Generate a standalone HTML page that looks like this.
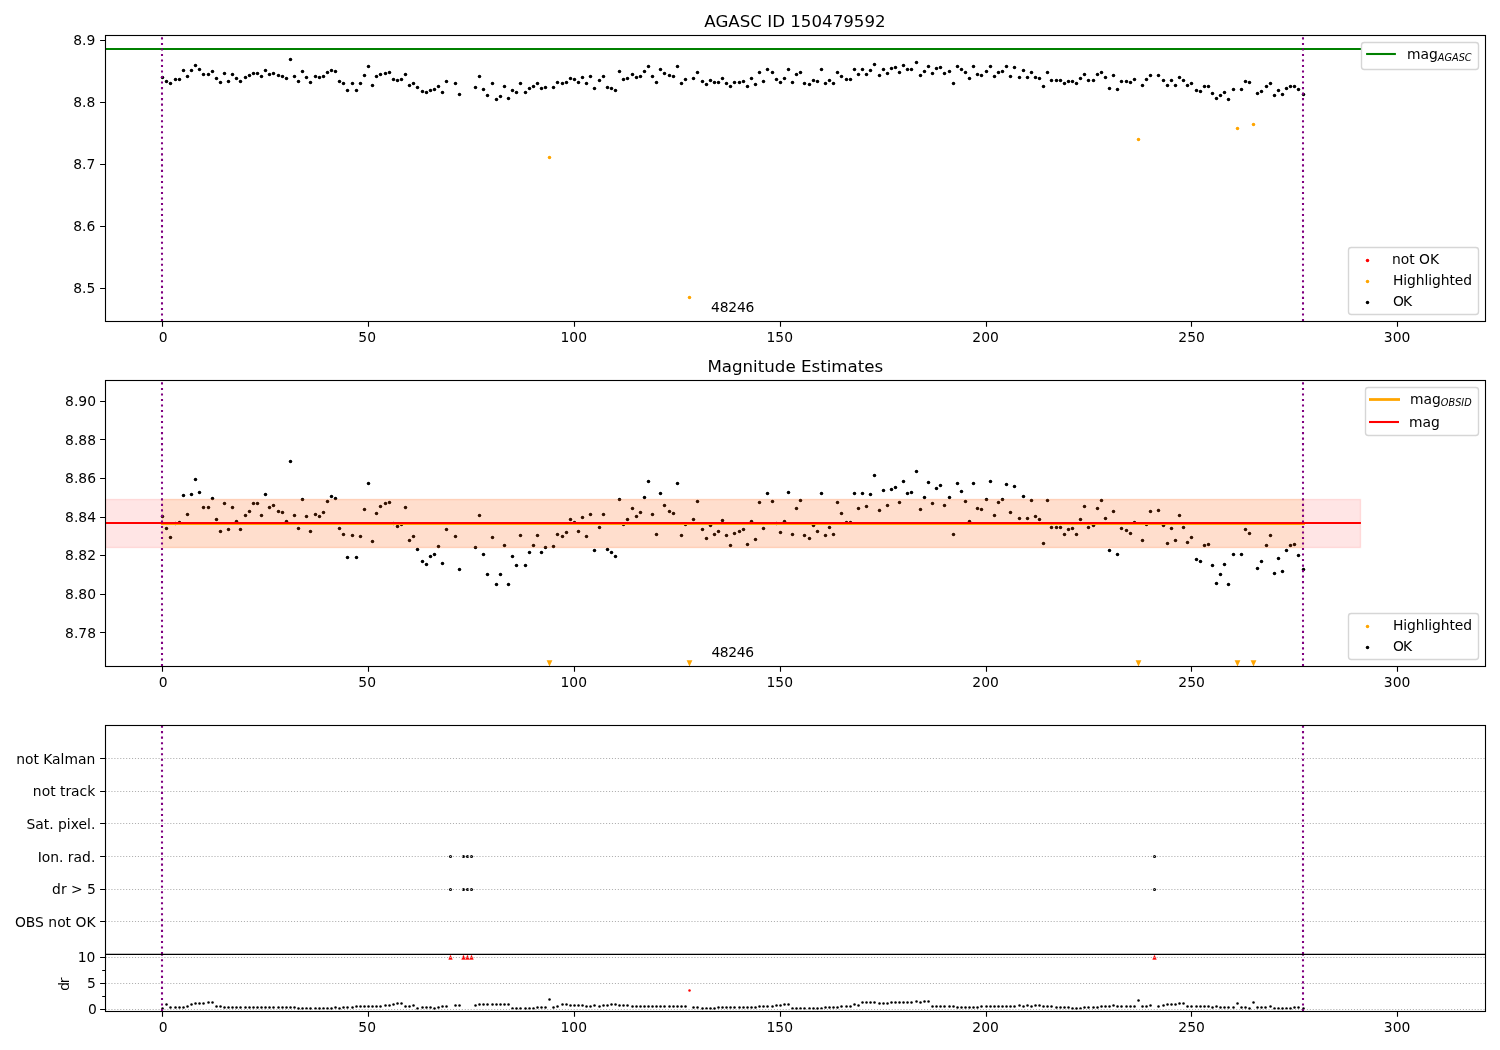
<!DOCTYPE html>
<html lang="en"><head><meta charset="utf-8"><title>AGASC ID 150479592</title>
<style>html,body{margin:0;padding:0;background:#fff;width:1500px;height:1050px;overflow:hidden}svg{display:block}</style>
</head><body>
<svg width="1500" height="1050" viewBox="0 0 1500 1050" font-family='"DejaVu Sans", "Liberation Sans", sans-serif' font-size="13.89" fill="#000">
<rect width="1500" height="1050" fill="#fff"/>
<defs>
<clipPath id="c1"><rect x="105.5" y="35.5" width="1380" height="286"/></clipPath>
<clipPath id="c2"><rect x="105.5" y="380.5" width="1380" height="286"/></clipPath>
<clipPath id="c3"><rect x="105.5" y="725.5" width="1380" height="229"/></clipPath>
<clipPath id="c4"><rect x="105.5" y="954.5" width="1380" height="57"/></clipPath>
</defs>
<text x="795.0" y="27" font-size="16.67" text-anchor="middle">AGASC ID 150479592</text>
<g clip-path="url(#c1)">
<g fill="#000"><circle cx="162.5" cy="77.5" r="1.75"/><circle cx="166.5" cy="81.5" r="1.75"/><circle cx="170.5" cy="83.5" r="1.75"/><circle cx="175.5" cy="79.5" r="1.75"/><circle cx="179.5" cy="79.5" r="1.75"/><circle cx="183.5" cy="70.5" r="1.75"/><circle cx="187.5" cy="76.5" r="1.75"/><circle cx="191.5" cy="70.5" r="1.75"/><circle cx="195.5" cy="65.5" r="1.75"/><circle cx="199.5" cy="69.5" r="1.75"/><circle cx="203.5" cy="74.5" r="1.75"/><circle cx="208.5" cy="74.5" r="1.75"/><circle cx="212.5" cy="71.5" r="1.75"/><circle cx="216.5" cy="78.5" r="1.75"/><circle cx="220.5" cy="82.5" r="1.75"/><circle cx="224.5" cy="73.5" r="1.75"/><circle cx="228.5" cy="81.5" r="1.75"/><circle cx="232.5" cy="74.5" r="1.75"/><circle cx="236.5" cy="78.5" r="1.75"/><circle cx="240.5" cy="81.5" r="1.75"/><circle cx="245.5" cy="77.5" r="1.75"/><circle cx="249.5" cy="75.5" r="1.75"/><circle cx="253.5" cy="73.5" r="1.75"/><circle cx="257.5" cy="73.5" r="1.75"/><circle cx="261.5" cy="76.5" r="1.75"/><circle cx="265.5" cy="70.5" r="1.75"/><circle cx="269.5" cy="74.5" r="1.75"/><circle cx="273.5" cy="73.5" r="1.75"/><circle cx="278.5" cy="75.5" r="1.75"/><circle cx="282.5" cy="76.5" r="1.75"/><circle cx="286.5" cy="78.5" r="1.75"/><circle cx="290.5" cy="59.5" r="1.75"/><circle cx="294.5" cy="76.5" r="1.75"/><circle cx="298.5" cy="81.5" r="1.75"/><circle cx="302.5" cy="71.5" r="1.75"/><circle cx="306.5" cy="77.5" r="1.75"/><circle cx="310.5" cy="82.5" r="1.75"/><circle cx="315.5" cy="76.5" r="1.75"/><circle cx="319.5" cy="77.5" r="1.75"/><circle cx="323.5" cy="76.5" r="1.75"/><circle cx="327.5" cy="72.5" r="1.75"/><circle cx="331.5" cy="70.5" r="1.75"/><circle cx="335.5" cy="71.5" r="1.75"/><circle cx="339.5" cy="81.5" r="1.75"/><circle cx="343.5" cy="83.5" r="1.75"/><circle cx="347.5" cy="90.5" r="1.75"/><circle cx="352.5" cy="83.5" r="1.75"/><circle cx="356.5" cy="90.5" r="1.75"/><circle cx="360.5" cy="83.5" r="1.75"/><circle cx="364.5" cy="75.5" r="1.75"/><circle cx="368.5" cy="66.5" r="1.75"/><circle cx="372.5" cy="85.5" r="1.75"/><circle cx="376.5" cy="76.5" r="1.75"/><circle cx="380.5" cy="74.5" r="1.75"/><circle cx="385.5" cy="73.5" r="1.75"/><circle cx="389.5" cy="72.5" r="1.75"/><circle cx="393.5" cy="79.5" r="1.75"/><circle cx="397.5" cy="80.5" r="1.75"/><circle cx="401.5" cy="79.5" r="1.75"/><circle cx="405.5" cy="74.5" r="1.75"/><circle cx="409.5" cy="85.5" r="1.75"/><circle cx="413.5" cy="83.5" r="1.75"/><circle cx="417.5" cy="87.5" r="1.75"/><circle cx="422.5" cy="91.5" r="1.75"/><circle cx="426.5" cy="92.5" r="1.75"/><circle cx="430.5" cy="90.5" r="1.75"/><circle cx="434.5" cy="89.5" r="1.75"/><circle cx="438.5" cy="86.5" r="1.75"/><circle cx="442.5" cy="92.5" r="1.75"/><circle cx="446.5" cy="81.5" r="1.75"/><circle cx="455.5" cy="83.5" r="1.75"/><circle cx="459.5" cy="94.5" r="1.75"/><circle cx="475.5" cy="87.5" r="1.75"/><circle cx="479.5" cy="76.5" r="1.75"/><circle cx="483.5" cy="89.5" r="1.75"/><circle cx="487.5" cy="95.5" r="1.75"/><circle cx="492.5" cy="83.5" r="1.75"/><circle cx="496.5" cy="99.5" r="1.75"/><circle cx="500.5" cy="96.5" r="1.75"/><circle cx="504.5" cy="86.5" r="1.75"/><circle cx="508.5" cy="98.5" r="1.75"/><circle cx="512.5" cy="90.5" r="1.75"/><circle cx="516.5" cy="92.5" r="1.75"/><circle cx="520.5" cy="83.5" r="1.75"/><circle cx="525.5" cy="92.5" r="1.75"/><circle cx="529.5" cy="88.5" r="1.75"/><circle cx="533.5" cy="86.5" r="1.75"/><circle cx="537.5" cy="83.5" r="1.75"/><circle cx="541.5" cy="88.5" r="1.75"/><circle cx="545.5" cy="87.5" r="1.75"/><circle cx="553.5" cy="87.5" r="1.75"/><circle cx="557.5" cy="82.5" r="1.75"/><circle cx="562.5" cy="83.5" r="1.75"/><circle cx="566.5" cy="82.5" r="1.75"/><circle cx="570.5" cy="78.5" r="1.75"/><circle cx="574.5" cy="79.5" r="1.75"/><circle cx="578.5" cy="82.5" r="1.75"/><circle cx="582.5" cy="77.5" r="1.75"/><circle cx="586.5" cy="83.5" r="1.75"/><circle cx="590.5" cy="76.5" r="1.75"/><circle cx="594.5" cy="88.5" r="1.75"/><circle cx="599.5" cy="80.5" r="1.75"/><circle cx="603.5" cy="76.5" r="1.75"/><circle cx="607.5" cy="87.5" r="1.75"/><circle cx="611.5" cy="88.5" r="1.75"/><circle cx="615.5" cy="90.5" r="1.75"/><circle cx="619.5" cy="71.5" r="1.75"/><circle cx="623.5" cy="79.5" r="1.75"/><circle cx="627.5" cy="78.5" r="1.75"/><circle cx="632.5" cy="74.5" r="1.75"/><circle cx="636.5" cy="77.5" r="1.75"/><circle cx="640.5" cy="76.5" r="1.75"/><circle cx="644.5" cy="71.5" r="1.75"/><circle cx="648.5" cy="66.5" r="1.75"/><circle cx="652.5" cy="76.5" r="1.75"/><circle cx="656.5" cy="82.5" r="1.75"/><circle cx="660.5" cy="69.5" r="1.75"/><circle cx="664.5" cy="73.5" r="1.75"/><circle cx="669.5" cy="75.5" r="1.75"/><circle cx="673.5" cy="76.5" r="1.75"/><circle cx="677.5" cy="66.5" r="1.75"/><circle cx="681.5" cy="83.5" r="1.75"/><circle cx="685.5" cy="79.5" r="1.75"/><circle cx="693.5" cy="78.5" r="1.75"/><circle cx="697.5" cy="72.5" r="1.75"/><circle cx="702.5" cy="81.5" r="1.75"/><circle cx="706.5" cy="84.5" r="1.75"/><circle cx="710.5" cy="80.5" r="1.75"/><circle cx="714.5" cy="82.5" r="1.75"/><circle cx="718.5" cy="82.5" r="1.75"/><circle cx="722.5" cy="78.5" r="1.75"/><circle cx="726.5" cy="83.5" r="1.75"/><circle cx="730.5" cy="86.5" r="1.75"/><circle cx="734.5" cy="82.5" r="1.75"/><circle cx="739.5" cy="82.5" r="1.75"/><circle cx="743.5" cy="81.5" r="1.75"/><circle cx="747.5" cy="86.5" r="1.75"/><circle cx="751.5" cy="78.5" r="1.75"/><circle cx="755.5" cy="84.5" r="1.75"/><circle cx="759.5" cy="72.5" r="1.75"/><circle cx="763.5" cy="81.5" r="1.75"/><circle cx="767.5" cy="69.5" r="1.75"/><circle cx="772.5" cy="72.5" r="1.75"/><circle cx="776.5" cy="79.5" r="1.75"/><circle cx="780.5" cy="82.5" r="1.75"/><circle cx="784.5" cy="78.5" r="1.75"/><circle cx="788.5" cy="69.5" r="1.75"/><circle cx="792.5" cy="82.5" r="1.75"/><circle cx="796.5" cy="74.5" r="1.75"/><circle cx="800.5" cy="72.5" r="1.75"/><circle cx="804.5" cy="83.5" r="1.75"/><circle cx="809.5" cy="84.5" r="1.75"/><circle cx="813.5" cy="80.5" r="1.75"/><circle cx="817.5" cy="81.5" r="1.75"/><circle cx="821.5" cy="69.5" r="1.75"/><circle cx="825.5" cy="83.5" r="1.75"/><circle cx="829.5" cy="80.5" r="1.75"/><circle cx="833.5" cy="83.5" r="1.75"/><circle cx="837.5" cy="72.5" r="1.75"/><circle cx="841.5" cy="76.5" r="1.75"/><circle cx="846.5" cy="79.5" r="1.75"/><circle cx="850.5" cy="79.5" r="1.75"/><circle cx="854.5" cy="69.5" r="1.75"/><circle cx="858.5" cy="74.5" r="1.75"/><circle cx="862.5" cy="69.5" r="1.75"/><circle cx="866.5" cy="74.5" r="1.75"/><circle cx="870.5" cy="70.5" r="1.75"/><circle cx="874.5" cy="64.5" r="1.75"/><circle cx="879.5" cy="75.5" r="1.75"/><circle cx="883.5" cy="69.5" r="1.75"/><circle cx="887.5" cy="73.5" r="1.75"/><circle cx="891.5" cy="68.5" r="1.75"/><circle cx="895.5" cy="67.5" r="1.75"/><circle cx="899.5" cy="72.5" r="1.75"/><circle cx="903.5" cy="65.5" r="1.75"/><circle cx="907.5" cy="69.5" r="1.75"/><circle cx="911.5" cy="69.5" r="1.75"/><circle cx="916.5" cy="62.5" r="1.75"/><circle cx="920.5" cy="75.5" r="1.75"/><circle cx="924.5" cy="71.5" r="1.75"/><circle cx="928.5" cy="66.5" r="1.75"/><circle cx="932.5" cy="73.5" r="1.75"/><circle cx="936.5" cy="68.5" r="1.75"/><circle cx="940.5" cy="67.5" r="1.75"/><circle cx="944.5" cy="73.5" r="1.75"/><circle cx="949.5" cy="71.5" r="1.75"/><circle cx="953.5" cy="83.5" r="1.75"/><circle cx="957.5" cy="66.5" r="1.75"/><circle cx="961.5" cy="69.5" r="1.75"/><circle cx="965.5" cy="72.5" r="1.75"/><circle cx="969.5" cy="78.5" r="1.75"/><circle cx="973.5" cy="66.5" r="1.75"/><circle cx="977.5" cy="74.5" r="1.75"/><circle cx="981.5" cy="75.5" r="1.75"/><circle cx="986.5" cy="71.5" r="1.75"/><circle cx="990.5" cy="66.5" r="1.75"/><circle cx="994.5" cy="76.5" r="1.75"/><circle cx="998.5" cy="72.5" r="1.75"/><circle cx="1002.5" cy="71.5" r="1.75"/><circle cx="1006.5" cy="66.5" r="1.75"/><circle cx="1010.5" cy="76.5" r="1.75"/><circle cx="1014.5" cy="67.5" r="1.75"/><circle cx="1019.5" cy="77.5" r="1.75"/><circle cx="1023.5" cy="70.5" r="1.75"/><circle cx="1027.5" cy="77.5" r="1.75"/><circle cx="1031.5" cy="72.5" r="1.75"/><circle cx="1035.5" cy="77.5" r="1.75"/><circle cx="1039.5" cy="78.5" r="1.75"/><circle cx="1043.5" cy="86.5" r="1.75"/><circle cx="1047.5" cy="72.5" r="1.75"/><circle cx="1051.5" cy="80.5" r="1.75"/><circle cx="1056.5" cy="80.5" r="1.75"/><circle cx="1060.5" cy="80.5" r="1.75"/><circle cx="1064.5" cy="83.5" r="1.75"/><circle cx="1068.5" cy="81.5" r="1.75"/><circle cx="1072.5" cy="81.5" r="1.75"/><circle cx="1076.5" cy="83.5" r="1.75"/><circle cx="1080.5" cy="78.5" r="1.75"/><circle cx="1084.5" cy="74.5" r="1.75"/><circle cx="1088.5" cy="80.5" r="1.75"/><circle cx="1093.5" cy="80.5" r="1.75"/><circle cx="1097.5" cy="74.5" r="1.75"/><circle cx="1101.5" cy="72.5" r="1.75"/><circle cx="1105.5" cy="77.5" r="1.75"/><circle cx="1109.5" cy="88.5" r="1.75"/><circle cx="1113.5" cy="75.5" r="1.75"/><circle cx="1117.5" cy="89.5" r="1.75"/><circle cx="1121.5" cy="81.5" r="1.75"/><circle cx="1126.5" cy="81.5" r="1.75"/><circle cx="1130.5" cy="82.5" r="1.75"/><circle cx="1134.5" cy="79.5" r="1.75"/><circle cx="1142.5" cy="85.5" r="1.75"/><circle cx="1146.5" cy="79.5" r="1.75"/><circle cx="1150.5" cy="75.5" r="1.75"/><circle cx="1158.5" cy="75.5" r="1.75"/><circle cx="1163.5" cy="80.5" r="1.75"/><circle cx="1167.5" cy="85.5" r="1.75"/><circle cx="1171.5" cy="80.5" r="1.75"/><circle cx="1175.5" cy="85.5" r="1.75"/><circle cx="1179.5" cy="77.5" r="1.75"/><circle cx="1183.5" cy="80.5" r="1.75"/><circle cx="1187.5" cy="85.5" r="1.75"/><circle cx="1191.5" cy="83.5" r="1.75"/><circle cx="1196.5" cy="90.5" r="1.75"/><circle cx="1200.5" cy="91.5" r="1.75"/><circle cx="1204.5" cy="86.5" r="1.75"/><circle cx="1208.5" cy="86.5" r="1.75"/><circle cx="1212.5" cy="93.5" r="1.75"/><circle cx="1216.5" cy="98.5" r="1.75"/><circle cx="1220.5" cy="95.5" r="1.75"/><circle cx="1224.5" cy="92.5" r="1.75"/><circle cx="1228.5" cy="99.5" r="1.75"/><circle cx="1233.5" cy="89.5" r="1.75"/><circle cx="1241.5" cy="89.5" r="1.75"/><circle cx="1245.5" cy="81.5" r="1.75"/><circle cx="1249.5" cy="82.5" r="1.75"/><circle cx="1257.5" cy="93.5" r="1.75"/><circle cx="1261.5" cy="91.5" r="1.75"/><circle cx="1266.5" cy="86.5" r="1.75"/><circle cx="1270.5" cy="83.5" r="1.75"/><circle cx="1274.5" cy="95.5" r="1.75"/><circle cx="1278.5" cy="90.5" r="1.75"/><circle cx="1282.5" cy="94.5" r="1.75"/><circle cx="1286.5" cy="88.5" r="1.75"/><circle cx="1290.5" cy="86.5" r="1.75"/><circle cx="1294.5" cy="86.5" r="1.75"/><circle cx="1298.5" cy="89.5" r="1.75"/><circle cx="1303.5" cy="94.5" r="1.75"/></g>
<g fill="#ffa500"><circle cx="549.5" cy="157.5" r="1.75"/><circle cx="689.5" cy="297.5" r="1.75"/><circle cx="1138.5" cy="139.5" r="1.75"/><circle cx="1237.5" cy="128.5" r="1.75"/><circle cx="1253.5" cy="124.5" r="1.75"/></g>
<path d="M104.2 49H1361.1" stroke="#008000" stroke-width="2.083" fill="none"/>
</g>
<path d="M162.0 321.0V35.5" stroke="#800080" stroke-width="2.083" stroke-dasharray="2.083 3.4375" fill="none" clip-path="url(#c1)"/>
<path d="M1303.0 321.0V35.5" stroke="#800080" stroke-width="2.083" stroke-dasharray="2.083 3.4375" fill="none" clip-path="url(#c1)"/>
<text x="711.1" y="312" letter-spacing="-0.2">48246</text>
<rect x="105.5" y="35.5" width="1380.0" height="286.0" fill="none" stroke="#000" stroke-width="1.11"/>
<path d="M162.5 321.5v5.3M368.5 321.5v5.3M574.5 321.5v5.3M780.5 321.5v5.3M986.5 321.5v5.3M1191.5 321.5v5.3M1397.5 321.5v5.3" stroke="#000" stroke-width="1.11" fill="none"/>
<g text-anchor="middle"><text x="163.2" y="342">0</text><text x="367.2" y="342">50</text><text x="573.8000000000001" y="342">100</text><text x="779.8000000000001" y="342">150</text><text x="985.6" y="342">200</text><text x="1191.6000000000001" y="342">250</text><text x="1397.1000000000001" y="342">300</text></g>
<path d="M105.5 40.5h-5.4M105.5 102.5h-5.4M105.5 164.5h-5.4M105.5 226.5h-5.4M105.5 288.5h-5.4" stroke="#000" stroke-width="1.11" fill="none"/>
<g text-anchor="end"><text x="95.3" y="45.0">8.9</text><text x="95.3" y="107.0">8.8</text><text x="95.3" y="169.0">8.7</text><text x="95.3" y="231.0">8.6</text><text x="95.3" y="293.0">8.5</text></g>
<rect x="1361.5" y="42.5" width="117.0" height="27.0" rx="2.8" ry="2.8" fill="#fff" fill-opacity="0.8" stroke="#ccc" stroke-opacity="0.8" stroke-width="1.39"/>
<path d="M1366.1 54H1395.9" stroke="#008000" stroke-width="2.083"/>
<text x="1407" y="58.8">mag<tspan font-style="italic" font-size="9.72" dy="2.1">AGASC</tspan></text>
<rect x="1348.5" y="247.5" width="130.0" height="67.0" rx="2.8" ry="2.8" fill="#fff" fill-opacity="0.8" stroke="#ccc" stroke-opacity="0.8" stroke-width="1.39"/>
<circle cx="1367.5" cy="260.5" r="1.75" fill="#f00"/><text x="1391.9" y="264" letter-spacing="0">not OK</text>
<circle cx="1367.5" cy="281.4" r="1.75" fill="#ffa500"/><text x="1392.9" y="285" letter-spacing="-0.087">Highlighted</text>
<circle cx="1367.5" cy="302.4" r="1.75" fill="#000"/><text x="1392.9" y="306" letter-spacing="-0.87">OK</text>
<text x="795.3" y="372" font-size="16.67" text-anchor="middle">Magnitude Estimates</text>
<g clip-path="url(#c2)">
<g fill="#000"><circle cx="162.5" cy="516.5" r="1.75"/><circle cx="166.5" cy="528.5" r="1.75"/><circle cx="170.5" cy="537.5" r="1.75"/><circle cx="175.5" cy="523.5" r="1.75"/><circle cx="179.5" cy="522.5" r="1.75"/><circle cx="183.5" cy="495.5" r="1.75"/><circle cx="187.5" cy="514.5" r="1.75"/><circle cx="191.5" cy="494.5" r="1.75"/><circle cx="195.5" cy="479.5" r="1.75"/><circle cx="199.5" cy="492.5" r="1.75"/><circle cx="203.5" cy="507.5" r="1.75"/><circle cx="208.5" cy="507.5" r="1.75"/><circle cx="212.5" cy="498.5" r="1.75"/><circle cx="216.5" cy="519.5" r="1.75"/><circle cx="220.5" cy="531.5" r="1.75"/><circle cx="224.5" cy="503.5" r="1.75"/><circle cx="228.5" cy="529.5" r="1.75"/><circle cx="232.5" cy="507.5" r="1.75"/><circle cx="236.5" cy="521.5" r="1.75"/><circle cx="240.5" cy="529.5" r="1.75"/><circle cx="245.5" cy="515.5" r="1.75"/><circle cx="249.5" cy="511.5" r="1.75"/><circle cx="253.5" cy="503.5" r="1.75"/><circle cx="257.5" cy="503.5" r="1.75"/><circle cx="261.5" cy="515.5" r="1.75"/><circle cx="265.5" cy="494.5" r="1.75"/><circle cx="269.5" cy="507.5" r="1.75"/><circle cx="273.5" cy="505.5" r="1.75"/><circle cx="278.5" cy="511.5" r="1.75"/><circle cx="282.5" cy="512.5" r="1.75"/><circle cx="286.5" cy="521.5" r="1.75"/><circle cx="290.5" cy="461.5" r="1.75"/><circle cx="294.5" cy="515.5" r="1.75"/><circle cx="298.5" cy="528.5" r="1.75"/><circle cx="302.5" cy="499.5" r="1.75"/><circle cx="306.5" cy="516.5" r="1.75"/><circle cx="310.5" cy="531.5" r="1.75"/><circle cx="315.5" cy="514.5" r="1.75"/><circle cx="319.5" cy="516.5" r="1.75"/><circle cx="323.5" cy="512.5" r="1.75"/><circle cx="327.5" cy="501.5" r="1.75"/><circle cx="331.5" cy="496.5" r="1.75"/><circle cx="335.5" cy="498.5" r="1.75"/><circle cx="339.5" cy="528.5" r="1.75"/><circle cx="343.5" cy="534.5" r="1.75"/><circle cx="347.5" cy="557.5" r="1.75"/><circle cx="352.5" cy="535.5" r="1.75"/><circle cx="356.5" cy="557.5" r="1.75"/><circle cx="360.5" cy="536.5" r="1.75"/><circle cx="364.5" cy="509.5" r="1.75"/><circle cx="368.5" cy="483.5" r="1.75"/><circle cx="372.5" cy="541.5" r="1.75"/><circle cx="376.5" cy="513.5" r="1.75"/><circle cx="380.5" cy="506.5" r="1.75"/><circle cx="385.5" cy="503.5" r="1.75"/><circle cx="389.5" cy="502.5" r="1.75"/><circle cx="393.5" cy="523.5" r="1.75"/><circle cx="397.5" cy="526.5" r="1.75"/><circle cx="401.5" cy="524.5" r="1.75"/><circle cx="405.5" cy="507.5" r="1.75"/><circle cx="409.5" cy="540.5" r="1.75"/><circle cx="413.5" cy="536.5" r="1.75"/><circle cx="417.5" cy="549.5" r="1.75"/><circle cx="422.5" cy="561.5" r="1.75"/><circle cx="426.5" cy="564.5" r="1.75"/><circle cx="430.5" cy="556.5" r="1.75"/><circle cx="434.5" cy="554.5" r="1.75"/><circle cx="438.5" cy="546.5" r="1.75"/><circle cx="442.5" cy="563.5" r="1.75"/><circle cx="446.5" cy="529.5" r="1.75"/><circle cx="455.5" cy="536.5" r="1.75"/><circle cx="459.5" cy="569.5" r="1.75"/><circle cx="475.5" cy="547.5" r="1.75"/><circle cx="479.5" cy="515.5" r="1.75"/><circle cx="483.5" cy="554.5" r="1.75"/><circle cx="487.5" cy="574.5" r="1.75"/><circle cx="492.5" cy="537.5" r="1.75"/><circle cx="496.5" cy="584.5" r="1.75"/><circle cx="500.5" cy="574.5" r="1.75"/><circle cx="504.5" cy="545.5" r="1.75"/><circle cx="508.5" cy="584.5" r="1.75"/><circle cx="512.5" cy="556.5" r="1.75"/><circle cx="516.5" cy="565.5" r="1.75"/><circle cx="520.5" cy="535.5" r="1.75"/><circle cx="525.5" cy="565.5" r="1.75"/><circle cx="529.5" cy="552.5" r="1.75"/><circle cx="533.5" cy="545.5" r="1.75"/><circle cx="537.5" cy="535.5" r="1.75"/><circle cx="541.5" cy="552.5" r="1.75"/><circle cx="545.5" cy="547.5" r="1.75"/><circle cx="553.5" cy="546.5" r="1.75"/><circle cx="557.5" cy="534.5" r="1.75"/><circle cx="562.5" cy="536.5" r="1.75"/><circle cx="566.5" cy="532.5" r="1.75"/><circle cx="570.5" cy="519.5" r="1.75"/><circle cx="574.5" cy="522.5" r="1.75"/><circle cx="578.5" cy="531.5" r="1.75"/><circle cx="582.5" cy="517.5" r="1.75"/><circle cx="586.5" cy="536.5" r="1.75"/><circle cx="590.5" cy="514.5" r="1.75"/><circle cx="594.5" cy="550.5" r="1.75"/><circle cx="599.5" cy="527.5" r="1.75"/><circle cx="603.5" cy="514.5" r="1.75"/><circle cx="607.5" cy="549.5" r="1.75"/><circle cx="611.5" cy="552.5" r="1.75"/><circle cx="615.5" cy="556.5" r="1.75"/><circle cx="619.5" cy="499.5" r="1.75"/><circle cx="623.5" cy="524.5" r="1.75"/><circle cx="627.5" cy="519.5" r="1.75"/><circle cx="632.5" cy="508.5" r="1.75"/><circle cx="636.5" cy="516.5" r="1.75"/><circle cx="640.5" cy="512.5" r="1.75"/><circle cx="644.5" cy="497.5" r="1.75"/><circle cx="648.5" cy="481.5" r="1.75"/><circle cx="652.5" cy="514.5" r="1.75"/><circle cx="656.5" cy="534.5" r="1.75"/><circle cx="660.5" cy="493.5" r="1.75"/><circle cx="664.5" cy="505.5" r="1.75"/><circle cx="669.5" cy="511.5" r="1.75"/><circle cx="673.5" cy="513.5" r="1.75"/><circle cx="677.5" cy="483.5" r="1.75"/><circle cx="681.5" cy="535.5" r="1.75"/><circle cx="685.5" cy="524.5" r="1.75"/><circle cx="693.5" cy="519.5" r="1.75"/><circle cx="697.5" cy="501.5" r="1.75"/><circle cx="702.5" cy="529.5" r="1.75"/><circle cx="706.5" cy="538.5" r="1.75"/><circle cx="710.5" cy="525.5" r="1.75"/><circle cx="714.5" cy="534.5" r="1.75"/><circle cx="718.5" cy="531.5" r="1.75"/><circle cx="722.5" cy="520.5" r="1.75"/><circle cx="726.5" cy="535.5" r="1.75"/><circle cx="730.5" cy="545.5" r="1.75"/><circle cx="734.5" cy="533.5" r="1.75"/><circle cx="739.5" cy="531.5" r="1.75"/><circle cx="743.5" cy="529.5" r="1.75"/><circle cx="747.5" cy="544.5" r="1.75"/><circle cx="751.5" cy="521.5" r="1.75"/><circle cx="755.5" cy="539.5" r="1.75"/><circle cx="759.5" cy="502.5" r="1.75"/><circle cx="763.5" cy="528.5" r="1.75"/><circle cx="767.5" cy="493.5" r="1.75"/><circle cx="772.5" cy="501.5" r="1.75"/><circle cx="776.5" cy="523.5" r="1.75"/><circle cx="780.5" cy="532.5" r="1.75"/><circle cx="784.5" cy="521.5" r="1.75"/><circle cx="788.5" cy="492.5" r="1.75"/><circle cx="792.5" cy="534.5" r="1.75"/><circle cx="796.5" cy="508.5" r="1.75"/><circle cx="800.5" cy="500.5" r="1.75"/><circle cx="804.5" cy="535.5" r="1.75"/><circle cx="809.5" cy="538.5" r="1.75"/><circle cx="813.5" cy="525.5" r="1.75"/><circle cx="817.5" cy="531.5" r="1.75"/><circle cx="821.5" cy="493.5" r="1.75"/><circle cx="825.5" cy="535.5" r="1.75"/><circle cx="829.5" cy="527.5" r="1.75"/><circle cx="833.5" cy="534.5" r="1.75"/><circle cx="837.5" cy="502.5" r="1.75"/><circle cx="841.5" cy="513.5" r="1.75"/><circle cx="846.5" cy="522.5" r="1.75"/><circle cx="850.5" cy="522.5" r="1.75"/><circle cx="854.5" cy="493.5" r="1.75"/><circle cx="858.5" cy="508.5" r="1.75"/><circle cx="862.5" cy="493.5" r="1.75"/><circle cx="866.5" cy="506.5" r="1.75"/><circle cx="870.5" cy="494.5" r="1.75"/><circle cx="874.5" cy="475.5" r="1.75"/><circle cx="879.5" cy="510.5" r="1.75"/><circle cx="883.5" cy="490.5" r="1.75"/><circle cx="887.5" cy="505.5" r="1.75"/><circle cx="891.5" cy="489.5" r="1.75"/><circle cx="895.5" cy="487.5" r="1.75"/><circle cx="899.5" cy="502.5" r="1.75"/><circle cx="903.5" cy="481.5" r="1.75"/><circle cx="907.5" cy="493.5" r="1.75"/><circle cx="911.5" cy="492.5" r="1.75"/><circle cx="916.5" cy="471.5" r="1.75"/><circle cx="920.5" cy="509.5" r="1.75"/><circle cx="924.5" cy="497.5" r="1.75"/><circle cx="928.5" cy="482.5" r="1.75"/><circle cx="932.5" cy="503.5" r="1.75"/><circle cx="936.5" cy="488.5" r="1.75"/><circle cx="940.5" cy="485.5" r="1.75"/><circle cx="944.5" cy="505.5" r="1.75"/><circle cx="949.5" cy="497.5" r="1.75"/><circle cx="953.5" cy="534.5" r="1.75"/><circle cx="957.5" cy="483.5" r="1.75"/><circle cx="961.5" cy="491.5" r="1.75"/><circle cx="965.5" cy="501.5" r="1.75"/><circle cx="969.5" cy="521.5" r="1.75"/><circle cx="973.5" cy="483.5" r="1.75"/><circle cx="977.5" cy="508.5" r="1.75"/><circle cx="981.5" cy="509.5" r="1.75"/><circle cx="986.5" cy="499.5" r="1.75"/><circle cx="990.5" cy="481.5" r="1.75"/><circle cx="994.5" cy="515.5" r="1.75"/><circle cx="998.5" cy="502.5" r="1.75"/><circle cx="1002.5" cy="499.5" r="1.75"/><circle cx="1006.5" cy="484.5" r="1.75"/><circle cx="1010.5" cy="512.5" r="1.75"/><circle cx="1014.5" cy="486.5" r="1.75"/><circle cx="1019.5" cy="518.5" r="1.75"/><circle cx="1023.5" cy="496.5" r="1.75"/><circle cx="1027.5" cy="518.5" r="1.75"/><circle cx="1031.5" cy="500.5" r="1.75"/><circle cx="1035.5" cy="516.5" r="1.75"/><circle cx="1039.5" cy="519.5" r="1.75"/><circle cx="1043.5" cy="543.5" r="1.75"/><circle cx="1047.5" cy="500.5" r="1.75"/><circle cx="1051.5" cy="527.5" r="1.75"/><circle cx="1056.5" cy="527.5" r="1.75"/><circle cx="1060.5" cy="527.5" r="1.75"/><circle cx="1064.5" cy="534.5" r="1.75"/><circle cx="1068.5" cy="529.5" r="1.75"/><circle cx="1072.5" cy="528.5" r="1.75"/><circle cx="1076.5" cy="534.5" r="1.75"/><circle cx="1080.5" cy="519.5" r="1.75"/><circle cx="1084.5" cy="506.5" r="1.75"/><circle cx="1088.5" cy="527.5" r="1.75"/><circle cx="1093.5" cy="525.5" r="1.75"/><circle cx="1097.5" cy="508.5" r="1.75"/><circle cx="1101.5" cy="500.5" r="1.75"/><circle cx="1105.5" cy="518.5" r="1.75"/><circle cx="1109.5" cy="550.5" r="1.75"/><circle cx="1113.5" cy="511.5" r="1.75"/><circle cx="1117.5" cy="554.5" r="1.75"/><circle cx="1121.5" cy="528.5" r="1.75"/><circle cx="1126.5" cy="530.5" r="1.75"/><circle cx="1130.5" cy="533.5" r="1.75"/><circle cx="1134.5" cy="522.5" r="1.75"/><circle cx="1142.5" cy="540.5" r="1.75"/><circle cx="1146.5" cy="524.5" r="1.75"/><circle cx="1150.5" cy="511.5" r="1.75"/><circle cx="1158.5" cy="510.5" r="1.75"/><circle cx="1163.5" cy="525.5" r="1.75"/><circle cx="1167.5" cy="543.5" r="1.75"/><circle cx="1171.5" cy="528.5" r="1.75"/><circle cx="1175.5" cy="540.5" r="1.75"/><circle cx="1179.5" cy="515.5" r="1.75"/><circle cx="1183.5" cy="527.5" r="1.75"/><circle cx="1187.5" cy="542.5" r="1.75"/><circle cx="1191.5" cy="537.5" r="1.75"/><circle cx="1196.5" cy="559.5" r="1.75"/><circle cx="1200.5" cy="561.5" r="1.75"/><circle cx="1204.5" cy="545.5" r="1.75"/><circle cx="1208.5" cy="544.5" r="1.75"/><circle cx="1212.5" cy="565.5" r="1.75"/><circle cx="1216.5" cy="583.5" r="1.75"/><circle cx="1220.5" cy="574.5" r="1.75"/><circle cx="1224.5" cy="564.5" r="1.75"/><circle cx="1228.5" cy="584.5" r="1.75"/><circle cx="1233.5" cy="554.5" r="1.75"/><circle cx="1241.5" cy="554.5" r="1.75"/><circle cx="1245.5" cy="529.5" r="1.75"/><circle cx="1249.5" cy="533.5" r="1.75"/><circle cx="1257.5" cy="568.5" r="1.75"/><circle cx="1261.5" cy="561.5" r="1.75"/><circle cx="1266.5" cy="545.5" r="1.75"/><circle cx="1270.5" cy="535.5" r="1.75"/><circle cx="1274.5" cy="573.5" r="1.75"/><circle cx="1278.5" cy="558.5" r="1.75"/><circle cx="1282.5" cy="571.5" r="1.75"/><circle cx="1286.5" cy="550.5" r="1.75"/><circle cx="1290.5" cy="545.5" r="1.75"/><circle cx="1294.5" cy="544.5" r="1.75"/><circle cx="1298.5" cy="555.5" r="1.75"/><circle cx="1303.5" cy="569.5" r="1.75"/></g>
<path d="M546.6 660.3H552.4L549.5 666.4Z" fill="#ffa500"/>
<path d="M686.6 660.3H692.4L689.5 666.4Z" fill="#ffa500"/>
<path d="M1135.6 660.3H1141.4L1138.5 666.4Z" fill="#ffa500"/>
<path d="M1234.6 660.3H1240.4L1237.5 666.4Z" fill="#ffa500"/>
<path d="M1250.6 660.3H1256.4L1253.5 666.4Z" fill="#ffa500"/>
<rect x="105.5" y="499.5" width="1255" height="48" fill="#f00" fill-opacity="0.1" stroke="#f00" stroke-opacity="0.1" stroke-width="1.39"/>
<rect x="162.5" y="499.5" width="1141" height="48" fill="#ffa500" fill-opacity="0.1" stroke="#ffa500" stroke-opacity="0.1" stroke-width="1.39"/>
<path d="M160.9 523.5H1304.9" stroke="#ffa500" stroke-width="2.78" fill="none"/>
<path d="M104.2 523H1360.9" stroke="#f00" stroke-width="2.083" fill="none"/>
</g>
<path d="M162.0 666.0V380.5" stroke="#800080" stroke-width="2.083" stroke-dasharray="2.083 3.4375" fill="none" clip-path="url(#c2)"/>
<path d="M1303.0 666.0V380.5" stroke="#800080" stroke-width="2.083" stroke-dasharray="2.083 3.4375" fill="none" clip-path="url(#c2)"/>
<text x="711.4" y="657" letter-spacing="-0.35">48246</text>
<rect x="105.5" y="380.5" width="1380.0" height="286.0" fill="none" stroke="#000" stroke-width="1.11"/>
<path d="M162.5 666.5v5.3M368.5 666.5v5.3M574.5 666.5v5.3M780.5 666.5v5.3M986.5 666.5v5.3M1191.5 666.5v5.3M1397.5 666.5v5.3" stroke="#000" stroke-width="1.11" fill="none"/>
<g text-anchor="middle"><text x="163.2" y="687">0</text><text x="367.2" y="687">50</text><text x="573.8000000000001" y="687">100</text><text x="779.8000000000001" y="687">150</text><text x="985.6" y="687">200</text><text x="1191.6000000000001" y="687">250</text><text x="1397.1000000000001" y="687">300</text></g>
<path d="M105.5 401.5h-5.4M105.5 439.5h-5.4M105.5 478.5h-5.4M105.5 517.5h-5.4M105.5 555.5h-5.4M105.5 594.5h-5.4M105.5 632.5h-5.4" stroke="#000" stroke-width="1.11" fill="none"/>
<g text-anchor="end"><text x="96.0" y="406.0">8.90</text><text x="96.0" y="444.6">8.88</text><text x="96.0" y="483.0">8.86</text><text x="96.0" y="522.3">8.84</text><text x="96.0" y="560.4">8.82</text><text x="96.0" y="599.0">8.80</text><text x="96.0" y="637.8">8.78</text></g>
<rect x="1365.5" y="387.5" width="113.0" height="48.0" rx="2.8" ry="2.8" fill="#fff" fill-opacity="0.8" stroke="#ccc" stroke-opacity="0.8" stroke-width="1.39"/>
<path d="M1369 399.5H1400" stroke="#ffa500" stroke-width="2.78"/>
<path d="M1369 422H1399" stroke="#f00" stroke-width="2.083"/>
<text x="1410" y="403.8">mag<tspan font-style="italic" font-size="9.72" dy="2.1">OBSID</tspan></text>
<text x="1409.1" y="426.5">mag</text>
<rect x="1348.5" y="613.5" width="130.0" height="46.0" rx="2.8" ry="2.8" fill="#fff" fill-opacity="0.8" stroke="#ccc" stroke-opacity="0.8" stroke-width="1.39"/>
<circle cx="1367.5" cy="626.5" r="1.75" fill="#ffa500"/><text x="1392.9" y="630" letter-spacing="-0.087">Highlighted</text>
<circle cx="1367.5" cy="647.4" r="1.75" fill="#000"/><text x="1392.9" y="651" letter-spacing="-0.87">OK</text>
<g clip-path="url(#c3)">
<g fill="#000"><circle cx="450.5" cy="856.5" r="1.5"/><circle cx="450.5" cy="889.5" r="1.5"/><circle cx="463.5" cy="856.5" r="1.5"/><circle cx="463.5" cy="889.5" r="1.5"/><circle cx="467.5" cy="856.5" r="1.5"/><circle cx="467.5" cy="889.5" r="1.5"/><circle cx="471.5" cy="856.5" r="1.5"/><circle cx="471.5" cy="889.5" r="1.5"/><circle cx="1154.5" cy="856.5" r="1.5"/><circle cx="1154.5" cy="889.5" r="1.5"/></g>
<path d="M105.5 758.5H1485.5M105.5 791.5H1485.5M105.5 823.5H1485.5M105.5 856.5H1485.5M105.5 889.5H1485.5M105.5 921.5H1485.5" stroke="#b0b0b0" stroke-width="1.11" stroke-dasharray="1.1111 1.8333" fill="none"/>
</g>
<g clip-path="url(#c4)">
<g fill="#000"><circle cx="162.5" cy="1008.5" r="1.25"/><circle cx="166.5" cy="1004.5" r="1.25"/><circle cx="170.5" cy="1007.5" r="1.25"/><circle cx="175.5" cy="1007.5" r="1.25"/><circle cx="179.5" cy="1007.5" r="1.25"/><circle cx="183.5" cy="1007.5" r="1.25"/><circle cx="187.5" cy="1006.5" r="1.25"/><circle cx="191.5" cy="1004.5" r="1.25"/><circle cx="195.5" cy="1003.5" r="1.25"/><circle cx="199.5" cy="1003.5" r="1.25"/><circle cx="203.5" cy="1003.5" r="1.25"/><circle cx="208.5" cy="1002.5" r="1.25"/><circle cx="212.5" cy="1002.5" r="1.25"/><circle cx="216.5" cy="1006.5" r="1.25"/><circle cx="220.5" cy="1006.5" r="1.25"/><circle cx="224.5" cy="1007.5" r="1.25"/><circle cx="228.5" cy="1007.5" r="1.25"/><circle cx="232.5" cy="1007.5" r="1.25"/><circle cx="236.5" cy="1007.5" r="1.25"/><circle cx="240.5" cy="1007.5" r="1.25"/><circle cx="245.5" cy="1007.5" r="1.25"/><circle cx="249.5" cy="1007.5" r="1.25"/><circle cx="253.5" cy="1007.5" r="1.25"/><circle cx="257.5" cy="1007.5" r="1.25"/><circle cx="261.5" cy="1007.5" r="1.25"/><circle cx="265.5" cy="1007.5" r="1.25"/><circle cx="269.5" cy="1007.5" r="1.25"/><circle cx="273.5" cy="1007.5" r="1.25"/><circle cx="278.5" cy="1007.5" r="1.25"/><circle cx="282.5" cy="1007.5" r="1.25"/><circle cx="286.5" cy="1007.5" r="1.25"/><circle cx="290.5" cy="1007.5" r="1.25"/><circle cx="294.5" cy="1007.5" r="1.25"/><circle cx="298.5" cy="1008.5" r="1.25"/><circle cx="302.5" cy="1008.5" r="1.25"/><circle cx="306.5" cy="1008.5" r="1.25"/><circle cx="310.5" cy="1008.5" r="1.25"/><circle cx="315.5" cy="1008.5" r="1.25"/><circle cx="319.5" cy="1008.5" r="1.25"/><circle cx="323.5" cy="1008.5" r="1.25"/><circle cx="327.5" cy="1008.5" r="1.25"/><circle cx="331.5" cy="1008.5" r="1.25"/><circle cx="335.5" cy="1007.5" r="1.25"/><circle cx="339.5" cy="1008.5" r="1.25"/><circle cx="343.5" cy="1007.5" r="1.25"/><circle cx="347.5" cy="1007.5" r="1.25"/><circle cx="352.5" cy="1007.5" r="1.25"/><circle cx="356.5" cy="1006.5" r="1.25"/><circle cx="360.5" cy="1006.5" r="1.25"/><circle cx="364.5" cy="1006.5" r="1.25"/><circle cx="368.5" cy="1006.5" r="1.25"/><circle cx="372.5" cy="1006.5" r="1.25"/><circle cx="376.5" cy="1006.5" r="1.25"/><circle cx="380.5" cy="1006.5" r="1.25"/><circle cx="385.5" cy="1005.5" r="1.25"/><circle cx="389.5" cy="1005.5" r="1.25"/><circle cx="393.5" cy="1004.5" r="1.25"/><circle cx="397.5" cy="1003.5" r="1.25"/><circle cx="401.5" cy="1003.5" r="1.25"/><circle cx="405.5" cy="1006.5" r="1.25"/><circle cx="409.5" cy="1006.5" r="1.25"/><circle cx="413.5" cy="1005.5" r="1.25"/><circle cx="417.5" cy="1008.5" r="1.25"/><circle cx="422.5" cy="1007.5" r="1.25"/><circle cx="426.5" cy="1007.5" r="1.25"/><circle cx="430.5" cy="1007.5" r="1.25"/><circle cx="434.5" cy="1008.5" r="1.25"/><circle cx="438.5" cy="1007.5" r="1.25"/><circle cx="442.5" cy="1006.5" r="1.25"/><circle cx="446.5" cy="1006.5" r="1.25"/><circle cx="455.5" cy="1005.5" r="1.25"/><circle cx="459.5" cy="1005.5" r="1.25"/><circle cx="475.5" cy="1005.5" r="1.25"/><circle cx="479.5" cy="1004.5" r="1.25"/><circle cx="483.5" cy="1004.5" r="1.25"/><circle cx="487.5" cy="1004.5" r="1.25"/><circle cx="492.5" cy="1004.5" r="1.25"/><circle cx="496.5" cy="1004.5" r="1.25"/><circle cx="500.5" cy="1004.5" r="1.25"/><circle cx="504.5" cy="1004.5" r="1.25"/><circle cx="508.5" cy="1004.5" r="1.25"/><circle cx="512.5" cy="1008.5" r="1.25"/><circle cx="516.5" cy="1008.5" r="1.25"/><circle cx="520.5" cy="1008.5" r="1.25"/><circle cx="525.5" cy="1008.5" r="1.25"/><circle cx="529.5" cy="1008.5" r="1.25"/><circle cx="533.5" cy="1008.5" r="1.25"/><circle cx="537.5" cy="1007.5" r="1.25"/><circle cx="541.5" cy="1007.5" r="1.25"/><circle cx="545.5" cy="1007.5" r="1.25"/><circle cx="549.5" cy="999.5" r="1.25"/><circle cx="553.5" cy="1007.5" r="1.25"/><circle cx="557.5" cy="1006.5" r="1.25"/><circle cx="562.5" cy="1004.5" r="1.25"/><circle cx="566.5" cy="1004.5" r="1.25"/><circle cx="570.5" cy="1005.5" r="1.25"/><circle cx="574.5" cy="1005.5" r="1.25"/><circle cx="578.5" cy="1005.5" r="1.25"/><circle cx="582.5" cy="1005.5" r="1.25"/><circle cx="586.5" cy="1006.5" r="1.25"/><circle cx="590.5" cy="1006.5" r="1.25"/><circle cx="594.5" cy="1005.5" r="1.25"/><circle cx="599.5" cy="1006.5" r="1.25"/><circle cx="603.5" cy="1005.5" r="1.25"/><circle cx="607.5" cy="1005.5" r="1.25"/><circle cx="611.5" cy="1004.5" r="1.25"/><circle cx="615.5" cy="1004.5" r="1.25"/><circle cx="619.5" cy="1005.5" r="1.25"/><circle cx="623.5" cy="1005.5" r="1.25"/><circle cx="627.5" cy="1005.5" r="1.25"/><circle cx="632.5" cy="1006.5" r="1.25"/><circle cx="636.5" cy="1006.5" r="1.25"/><circle cx="640.5" cy="1006.5" r="1.25"/><circle cx="644.5" cy="1006.5" r="1.25"/><circle cx="648.5" cy="1006.5" r="1.25"/><circle cx="652.5" cy="1006.5" r="1.25"/><circle cx="656.5" cy="1006.5" r="1.25"/><circle cx="660.5" cy="1006.5" r="1.25"/><circle cx="664.5" cy="1006.5" r="1.25"/><circle cx="669.5" cy="1006.5" r="1.25"/><circle cx="673.5" cy="1006.5" r="1.25"/><circle cx="677.5" cy="1006.5" r="1.25"/><circle cx="681.5" cy="1006.5" r="1.25"/><circle cx="685.5" cy="1006.5" r="1.25"/><circle cx="693.5" cy="1007.5" r="1.25"/><circle cx="697.5" cy="1007.5" r="1.25"/><circle cx="702.5" cy="1008.5" r="1.25"/><circle cx="706.5" cy="1008.5" r="1.25"/><circle cx="710.5" cy="1008.5" r="1.25"/><circle cx="714.5" cy="1008.5" r="1.25"/><circle cx="718.5" cy="1007.5" r="1.25"/><circle cx="722.5" cy="1007.5" r="1.25"/><circle cx="726.5" cy="1007.5" r="1.25"/><circle cx="730.5" cy="1007.5" r="1.25"/><circle cx="734.5" cy="1007.5" r="1.25"/><circle cx="739.5" cy="1007.5" r="1.25"/><circle cx="743.5" cy="1007.5" r="1.25"/><circle cx="747.5" cy="1007.5" r="1.25"/><circle cx="751.5" cy="1007.5" r="1.25"/><circle cx="755.5" cy="1007.5" r="1.25"/><circle cx="759.5" cy="1006.5" r="1.25"/><circle cx="763.5" cy="1006.5" r="1.25"/><circle cx="767.5" cy="1006.5" r="1.25"/><circle cx="772.5" cy="1006.5" r="1.25"/><circle cx="776.5" cy="1005.5" r="1.25"/><circle cx="780.5" cy="1005.5" r="1.25"/><circle cx="784.5" cy="1004.5" r="1.25"/><circle cx="788.5" cy="1004.5" r="1.25"/><circle cx="792.5" cy="1008.5" r="1.25"/><circle cx="796.5" cy="1008.5" r="1.25"/><circle cx="800.5" cy="1008.5" r="1.25"/><circle cx="804.5" cy="1008.5" r="1.25"/><circle cx="809.5" cy="1008.5" r="1.25"/><circle cx="813.5" cy="1008.5" r="1.25"/><circle cx="817.5" cy="1008.5" r="1.25"/><circle cx="821.5" cy="1008.5" r="1.25"/><circle cx="825.5" cy="1007.5" r="1.25"/><circle cx="829.5" cy="1007.5" r="1.25"/><circle cx="833.5" cy="1007.5" r="1.25"/><circle cx="837.5" cy="1007.5" r="1.25"/><circle cx="841.5" cy="1006.5" r="1.25"/><circle cx="846.5" cy="1006.5" r="1.25"/><circle cx="850.5" cy="1006.5" r="1.25"/><circle cx="854.5" cy="1004.5" r="1.25"/><circle cx="858.5" cy="1005.5" r="1.25"/><circle cx="862.5" cy="1002.5" r="1.25"/><circle cx="866.5" cy="1002.5" r="1.25"/><circle cx="870.5" cy="1002.5" r="1.25"/><circle cx="874.5" cy="1002.5" r="1.25"/><circle cx="879.5" cy="1003.5" r="1.25"/><circle cx="883.5" cy="1003.5" r="1.25"/><circle cx="887.5" cy="1003.5" r="1.25"/><circle cx="891.5" cy="1002.5" r="1.25"/><circle cx="895.5" cy="1002.5" r="1.25"/><circle cx="899.5" cy="1002.5" r="1.25"/><circle cx="903.5" cy="1002.5" r="1.25"/><circle cx="907.5" cy="1002.5" r="1.25"/><circle cx="911.5" cy="1002.5" r="1.25"/><circle cx="916.5" cy="1001.5" r="1.25"/><circle cx="920.5" cy="1002.5" r="1.25"/><circle cx="924.5" cy="1001.5" r="1.25"/><circle cx="928.5" cy="1001.5" r="1.25"/><circle cx="932.5" cy="1006.5" r="1.25"/><circle cx="936.5" cy="1006.5" r="1.25"/><circle cx="940.5" cy="1006.5" r="1.25"/><circle cx="944.5" cy="1006.5" r="1.25"/><circle cx="949.5" cy="1006.5" r="1.25"/><circle cx="953.5" cy="1006.5" r="1.25"/><circle cx="957.5" cy="1007.5" r="1.25"/><circle cx="961.5" cy="1007.5" r="1.25"/><circle cx="965.5" cy="1007.5" r="1.25"/><circle cx="969.5" cy="1007.5" r="1.25"/><circle cx="973.5" cy="1007.5" r="1.25"/><circle cx="977.5" cy="1007.5" r="1.25"/><circle cx="981.5" cy="1006.5" r="1.25"/><circle cx="986.5" cy="1006.5" r="1.25"/><circle cx="990.5" cy="1006.5" r="1.25"/><circle cx="994.5" cy="1006.5" r="1.25"/><circle cx="998.5" cy="1006.5" r="1.25"/><circle cx="1002.5" cy="1006.5" r="1.25"/><circle cx="1006.5" cy="1006.5" r="1.25"/><circle cx="1010.5" cy="1006.5" r="1.25"/><circle cx="1014.5" cy="1006.5" r="1.25"/><circle cx="1019.5" cy="1005.5" r="1.25"/><circle cx="1023.5" cy="1006.5" r="1.25"/><circle cx="1027.5" cy="1005.5" r="1.25"/><circle cx="1031.5" cy="1006.5" r="1.25"/><circle cx="1035.5" cy="1005.5" r="1.25"/><circle cx="1039.5" cy="1005.5" r="1.25"/><circle cx="1043.5" cy="1006.5" r="1.25"/><circle cx="1047.5" cy="1006.5" r="1.25"/><circle cx="1051.5" cy="1006.5" r="1.25"/><circle cx="1056.5" cy="1007.5" r="1.25"/><circle cx="1060.5" cy="1007.5" r="1.25"/><circle cx="1064.5" cy="1007.5" r="1.25"/><circle cx="1068.5" cy="1007.5" r="1.25"/><circle cx="1072.5" cy="1008.5" r="1.25"/><circle cx="1076.5" cy="1008.5" r="1.25"/><circle cx="1080.5" cy="1008.5" r="1.25"/><circle cx="1084.5" cy="1007.5" r="1.25"/><circle cx="1088.5" cy="1007.5" r="1.25"/><circle cx="1093.5" cy="1007.5" r="1.25"/><circle cx="1097.5" cy="1007.5" r="1.25"/><circle cx="1101.5" cy="1006.5" r="1.25"/><circle cx="1105.5" cy="1006.5" r="1.25"/><circle cx="1109.5" cy="1006.5" r="1.25"/><circle cx="1113.5" cy="1005.5" r="1.25"/><circle cx="1117.5" cy="1006.5" r="1.25"/><circle cx="1121.5" cy="1006.5" r="1.25"/><circle cx="1126.5" cy="1006.5" r="1.25"/><circle cx="1130.5" cy="1006.5" r="1.25"/><circle cx="1134.5" cy="1006.5" r="1.25"/><circle cx="1138.5" cy="1000.5" r="1.25"/><circle cx="1142.5" cy="1006.5" r="1.25"/><circle cx="1146.5" cy="1006.5" r="1.25"/><circle cx="1150.5" cy="1005.5" r="1.25"/><circle cx="1158.5" cy="1006.5" r="1.25"/><circle cx="1163.5" cy="1005.5" r="1.25"/><circle cx="1167.5" cy="1004.5" r="1.25"/><circle cx="1171.5" cy="1004.5" r="1.25"/><circle cx="1175.5" cy="1004.5" r="1.25"/><circle cx="1179.5" cy="1003.5" r="1.25"/><circle cx="1183.5" cy="1003.5" r="1.25"/><circle cx="1187.5" cy="1006.5" r="1.25"/><circle cx="1191.5" cy="1006.5" r="1.25"/><circle cx="1196.5" cy="1006.5" r="1.25"/><circle cx="1200.5" cy="1006.5" r="1.25"/><circle cx="1204.5" cy="1006.5" r="1.25"/><circle cx="1208.5" cy="1006.5" r="1.25"/><circle cx="1212.5" cy="1007.5" r="1.25"/><circle cx="1216.5" cy="1006.5" r="1.25"/><circle cx="1220.5" cy="1007.5" r="1.25"/><circle cx="1224.5" cy="1007.5" r="1.25"/><circle cx="1228.5" cy="1007.5" r="1.25"/><circle cx="1233.5" cy="1007.5" r="1.25"/><circle cx="1237.5" cy="1003.5" r="1.25"/><circle cx="1241.5" cy="1007.5" r="1.25"/><circle cx="1245.5" cy="1007.5" r="1.25"/><circle cx="1249.5" cy="1008.5" r="1.25"/><circle cx="1253.5" cy="1002.5" r="1.25"/><circle cx="1257.5" cy="1007.5" r="1.25"/><circle cx="1261.5" cy="1007.5" r="1.25"/><circle cx="1265.5" cy="1007.5" r="1.25"/><circle cx="1270.5" cy="1006.5" r="1.25"/><circle cx="1274.5" cy="1008.5" r="1.25"/><circle cx="1278.5" cy="1008.5" r="1.25"/><circle cx="1282.5" cy="1008.5" r="1.25"/><circle cx="1286.5" cy="1008.5" r="1.25"/><circle cx="1290.5" cy="1008.5" r="1.25"/><circle cx="1294.5" cy="1007.5" r="1.25"/><circle cx="1298.5" cy="1007.5" r="1.25"/><circle cx="1303.5" cy="1008.5" r="1.25"/></g>
<g fill="#f00"><circle cx="689.5" cy="990.5" r="1.25"/></g>
<path d="M450.5 955.1L452.4 959.5H448.6Z" fill="#f00" stroke="#f00" stroke-width="0.3" stroke-linejoin="round"/>
<path d="M463.5 955.1L465.4 959.5H461.6Z" fill="#f00" stroke="#f00" stroke-width="0.3" stroke-linejoin="round"/>
<path d="M467.5 955.1L469.4 959.5H465.6Z" fill="#f00" stroke="#f00" stroke-width="0.3" stroke-linejoin="round"/>
<path d="M471.5 955.1L473.4 959.5H469.6Z" fill="#f00" stroke="#f00" stroke-width="0.3" stroke-linejoin="round"/>
<path d="M1154.5 955.1L1156.4 959.5H1152.6Z" fill="#f00" stroke="#f00" stroke-width="0.3" stroke-linejoin="round"/>
<path d="M105.5 957.5H1485.5M105.5 983.5H1485.5M105.5 1009.5H1485.5" stroke="#b0b0b0" stroke-width="1.11" stroke-dasharray="1.1111 1.8333" fill="none"/>
</g>
<path d="M162.0 954V725.5" stroke="#800080" stroke-width="2.083" stroke-dasharray="2.083 3.4375" fill="none"/>
<path d="M162.0 1011V954.5" stroke="#800080" stroke-width="2.083" stroke-dasharray="2.083 3.4375" fill="none"/>
<path d="M1303.0 954V725.5" stroke="#800080" stroke-width="2.083" stroke-dasharray="2.083 3.4375" fill="none"/>
<path d="M1303.0 1011V954.5" stroke="#800080" stroke-width="2.083" stroke-dasharray="2.083 3.4375" fill="none"/>
<rect x="105.5" y="725.5" width="1380.0" height="286.0" fill="none" stroke="#000" stroke-width="1.11"/>
<path d="M105.5 954.4H1485.5" stroke="#000" stroke-width="1.2" fill="none"/>
<path d="M162.5 1011.5v5.3M368.5 1011.5v5.3M574.5 1011.5v5.3M780.5 1011.5v5.3M986.5 1011.5v5.3M1191.5 1011.5v5.3M1397.5 1011.5v5.3" stroke="#000" stroke-width="1.11" fill="none"/>
<g text-anchor="middle"><text x="163.2" y="1032">0</text><text x="367.2" y="1032">50</text><text x="573.8000000000001" y="1032">100</text><text x="779.8000000000001" y="1032">150</text><text x="985.6" y="1032">200</text><text x="1191.6000000000001" y="1032">250</text><text x="1397.1000000000001" y="1032">300</text></g>
<path d="M105.5 758.5h-5.4M105.5 791.5h-5.4M105.5 823.5h-5.4M105.5 856.5h-5.4M105.5 889.5h-5.4M105.5 921.5h-5.4" stroke="#000" stroke-width="1.11" fill="none"/>
<g text-anchor="end"><text x="95.3" y="763.5">not Kalman</text><text x="95.3" y="795.5">not track</text><text x="95.3" y="828.5">Sat. pixel.</text><text x="95.3" y="861.5">Ion. rad.</text><text x="95.89999999999999" y="893.5">dr &gt; 5</text><text x="95.5" y="926.5">OBS not OK</text></g>
<path d="M105.5 957.5h-5.4M105.5 983.5h-5.4M105.5 1009.5h-5.4M105.5 970.5h-3.3M105.5 996.5h-3.3" stroke="#000" stroke-width="1.11" fill="none"/>
<g text-anchor="end"><text x="95.3" y="962.0">10</text><text x="95.89999999999999" y="988.0">5</text><text x="96.8" y="1014.0">0</text></g>
<text transform="translate(68.6 990.8) rotate(-90)" letter-spacing="-1.3">dr</text>
</svg>
</body></html>
